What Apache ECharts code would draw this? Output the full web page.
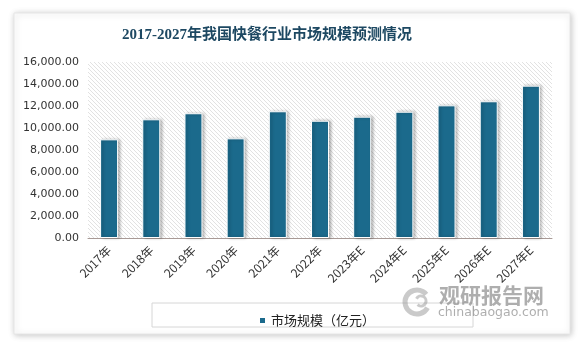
<!DOCTYPE html>
<html>
<head>
<meta charset="utf-8">
<script src="https://cdn.jsdelivr.net/npm/echarts@6/dist/echarts.min.js"></script>
<style>
  html, body { margin: 0; padding: 0; background: #ffffff; }
  #chart { width: 583px; height: 349px; }
</style>
</head>
<body>
<div id="chart"></div>
<script>
// Fast-food market size in China, 2017-2027 (E = estimate)
const categories = ['2017年', '2018年', '2019年', '2020年', '2021年', '2022年',
                    '2023年E', '2024年E', '2025年E', '2026年E', '2027年E'];
const marketSize = [8970, 10790, 11340, 9060, 11520, 10660, 11030, 11480, 12060, 12430, 13850];
const yTicks = [0, 2000, 4000, 6000, 8000, 10000, 12000, 14000, 16000];
const seriesName = '市场规模（亿元）';
const titleText = '2017-2027年我国快餐行业市场规模预测情况';

// fine diagonal hatch used as the plot background
function hatchPattern() {
  const s = 4;
  const c = document.createElement('canvas');
  c.width = s; c.height = s;
  const g = c.getContext('2d');
  g.fillStyle = '#ffffff';
  g.fillRect(0, 0, s, s);
  g.fillStyle = '#e2e2e2';
  for (let i = 0; i < s; i++) g.fillRect(i, i, 1, 1);
  return c;
}

const chart = echarts.init(document.getElementById('chart'), null, { renderer: 'canvas' });
const fmt = v => v.toLocaleString('en-US', { minimumFractionDigits: 2, maximumFractionDigits: 2 });

chart.setOption({
  backgroundColor: '#ffffff',
  animation: false,
  title: {
    text: titleText,
    left: 262,
    textAlign: 'center',
    top: 23,
    textStyle: {
      fontFamily: '"Liberation Serif", "Noto Sans CJK SC", serif',
      fontSize: 15,
      fontWeight: 'bold',
      color: '#1d4862'
    }
  },
  graphic: [
    {
      type: 'rect', z: -10, silent: true,
      shape: { x: 14, y: 13, width: 556, height: 321 },
      style: { fill: '#ffffff', stroke: '#e6e6e6', lineWidth: 1,
               shadowBlur: 6, shadowColor: 'rgba(0,0,0,0.22)', shadowOffsetX: 1, shadowOffsetY: 1 }
    },
    {
      type: 'rect', z: -9, silent: true,
      shape: { x: 152, y: 303, width: 321, height: 24 },
      style: { fill: '#ffffff', stroke: '#d6d6d6', lineWidth: 1 }
    },
    {
      type: 'arc', z: 20, silent: true,
      shape: { cx: 417, cy: 302, r: 12, startAngle: 0.5, endAngle: 5.6 },
      style: { fill: 'none', stroke: 'rgba(150,150,150,0.5)', lineWidth: 5 }
    },
    {
      type: 'arc', z: 20, silent: true,
      shape: { cx: 421, cy: 301, r: 5, startAngle: 3.6, endAngle: 8.6 },
      style: { fill: 'none', stroke: 'rgba(150,150,150,0.5)', lineWidth: 3 }
    },
    {
      type: 'text', z: 20, silent: true,
      left: 439, top: 285,
      style: { text: '观研报告网', fill: 'rgba(120,120,120,0.6)',
               font: 'bold 21px "Noto Sans CJK SC", sans-serif' }
    },
    {
      type: 'text', z: 20, silent: true,
      left: 438, top: 306,
      style: { text: 'chinabaogao.com', fill: 'rgba(130,130,130,0.65)',
               font: '12.5px "DejaVu Sans", sans-serif' }
    }
  ],
  legend: {
    data: [seriesName],
    top: 309,
    left: 253,
    itemWidth: 7,
    itemHeight: 7,
    itemGap: 4,
    icon: 'rect',
    textStyle: { fontFamily: '"Noto Sans CJK SC", sans-serif', fontSize: 13, color: '#222' }
  },
  grid: {
    left: 88, right: 31, top: 62, bottom: 111,
    show: true,
    borderWidth: 0,
    backgroundColor: { image: hatchPattern(), repeat: 'repeat' }
  },
  xAxis: {
    type: 'category',
    data: categories,
    axisLine: { lineStyle: { color: '#a89a96', width: 1 } },
    axisTick: { show: false },
    axisLabel: {
      rotate: 45,
      interval: 0,
      margin: 10,
      fontFamily: '"Noto Sans CJK SC", sans-serif',
      fontSize: 12,
      color: '#333'
    }
  },
  yAxis: {
    type: 'value',
    min: yTicks[0],
    max: yTicks[yTicks.length - 1],
    interval: yTicks[1] - yTicks[0],
    axisLine: { show: false },
    axisTick: { show: false },
    splitLine: { show: false },
    axisLabel: {
      margin: 9,
      fontFamily: '"DejaVu Sans", sans-serif',
      fontSize: 11,
      color: '#333',
      formatter: v => fmt(v)
    }
  },
  series: [{
    name: seriesName,
    type: 'bar',
    data: marketSize,
    barWidth: 18,
    itemStyle: {
      color: '#1b6a8c',
      borderColor: '#ffffff',
      borderWidth: 1,
      shadowColor: 'rgba(0,0,0,0.3)',
      shadowBlur: 3,
      shadowOffsetX: 2,
      shadowOffsetY: 0
    }
  }]
});
</script>
</body>
</html>
